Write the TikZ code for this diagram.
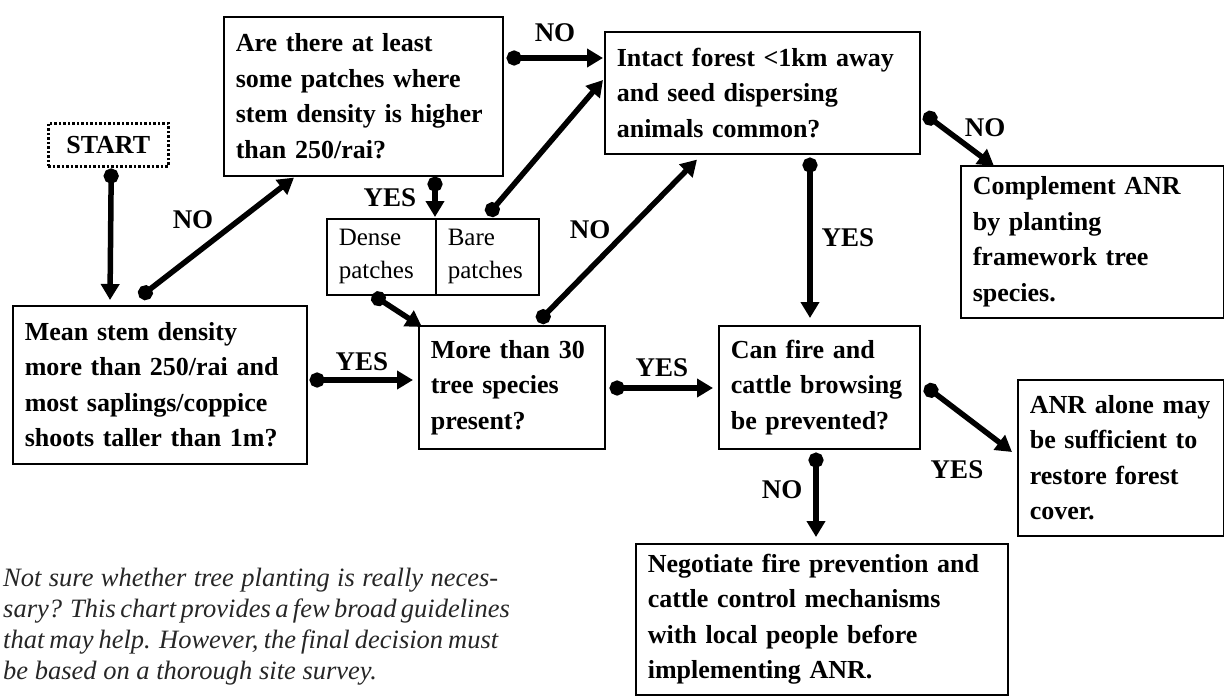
\documentclass[tikz,border=0pt]{standalone}
\usepackage{fontspec}
\setmainfont{Liberation Serif}
\usetikzlibrary{arrows.meta,calc}
\newcommand\oneln[1]{\mbox{#1}}
\begin{document}
\begin{tikzpicture}[x=1pt,y=-1pt,
  box/.style={draw, line width=1.6pt, anchor=north west, align=left,
    inner xsep=12pt, inner ysep=0pt,
    font=\fontsize{26}{35.5}\selectfont\bfseries},
  cell/.style={draw, line width=1.6pt, anchor=north west, align=left,
    inner xsep=12pt, inner ysep=0pt,
    font=\fontsize{25}{33}\selectfont},
  lbl/.style={font=\fontsize{27}{30}\selectfont\bfseries, inner sep=0pt},
  conn/.style={line width=5.5pt, {Circle[length=15pt]}-{Triangle[length=16pt,width=18pt]}},
]
\useasboundingbox (0,0) rectangle (1224,696);

% boxes
\node[draw, line width=2.5pt, dash pattern=on 2.5pt off 2pt, anchor=north west,
  minimum width=120pt, minimum height=43pt, inner sep=0pt,
  font=\fontsize{26}{30}\selectfont\bfseries] (start) at (47,122) {START};
\node[box, text width=255pt, minimum width=279pt, minimum height=159pt] (are) at (223,16)
  {\oneln{Are there at least}\\\oneln{some patches where}\\\oneln{stem density is higher}\\\oneln{than 250/rai?}};
\node[box, text width=291pt, minimum width=315pt, minimum height=122pt] (intact) at (604,31)
  {\oneln{Intact forest <1km away}\\\oneln{and seed dispersing}\\\oneln{animals common?}};
\node[box, text width=239pt, minimum width=263pt, minimum height=152pt] (comp) at (960,165)
  {\oneln{Complement ANR}\\\oneln{by planting}\\\oneln{framework tree}\\\oneln{species.}};
\node[box, text width=270pt, minimum width=294pt, minimum height=158pt] (mean) at (12,305)
  {\oneln{Mean stem density}\\\oneln{more than 250/rai and}\\\oneln{most saplings/coppice}\\\oneln{shoots taller than 1m?}};
\node[cell, text width=85pt, minimum width=109pt, minimum height=76pt] (dense) at (326,218)
  {Dense\\patches};
\node[cell, text width=79pt, minimum width=103pt, minimum height=76pt] (bare) at (435,218)
  {Bare\\patches};
\node[box, text width=162pt, minimum width=186pt, minimum height=123pt] (more) at (418,325)
  {\oneln{More than 30}\\\oneln{tree species}\\\oneln{present?}};
\node[box, text width=177pt, minimum width=201pt, minimum height=123pt] (can) at (718,325)
  {\oneln{Can fire and}\\\oneln{cattle browsing}\\\oneln{be prevented?}};
\node[box, text width=182pt, minimum width=206pt, minimum height=156pt] (anr) at (1017,379)
  {\oneln{ANR alone may}\\\oneln{be sufficient to}\\\oneln{restore forest}\\\oneln{cover.}};
\node[box, text width=348pt, minimum width=372pt, minimum height=151pt] (neg) at (635,543)
  {\oneln{Negotiate fire prevention and}\\\oneln{cattle control mechanisms}\\\oneln{with local people before}\\\oneln{implementing ANR.}};

% note
\node[anchor=north west, inner sep=0pt, align=left, text=black!85,
  font=\fontsize{26.5}{31}\selectfont\itshape] (note) at (3,568)
  {\makebox[495pt][s]{Not sure whether tree planting is really neces-}\\
   \makebox[495pt][s]{sary? This chart provides a few broad guidelines}\\
   \makebox[495pt][s]{that may help. However, the final decision must}\\
   be based on a thorough site survey.};

% connectors
\draw[conn] ($(start.south)+(3,1)$) -- ($(mean.north west)+(98,-5)$);
\draw[conn] ($(mean.north west)+(127.5,-7.7)$) -- ($(are.south west)+(71,1)$);
\draw[conn] ($(are.north east)+(3,42)$) -- ($(intact.north west)+(-1,27)$);
\draw[conn] ($(are.south west)+(212,0)$) -- ($(bare.north west)+(0,-1)$);
\draw[conn] ($(bare.north west)+(52.5,-2.7)$) -- ($(intact.north west)+(-1,49)$);
\draw[conn] ($(dense.south west)+(46.2,-1)$) -- ($(more.north west)+(4,2)$);
\draw[conn] ($(mean.north east)+(2,75)$) -- ($(more.north west)+(-5,55)$);
\draw[conn] ($(more.north west)+(120,-3)$) -- ($(intact.south west)+(93,5)$);
\draw[conn] ($(more.north east)+(4,63)$) -- ($(can.north west)+(-5,63)$);
\draw[conn] ($(intact.south west)+(206,3)$) -- ($(can.north west)+(92,-7)$);
\draw[conn] ($(intact.north east)+(3.5,82.7)$) -- ($(comp.north west)+(34,1)$);
\draw[conn] ($(can.north east)+(4.4,60.8)$) -- ($(anr.north west)+(-5,73)$);
\draw[conn] ($(can.south west)+(98,3)$) -- ($(neg.north west)+(181,-6)$);

% labels
\node[lbl] (l1) at (193,220) {NO};
\node[lbl] (l2) at (555,33) {NO};
\node[lbl] (l3) at (390,198) {YES};
\node[lbl] (l4) at (362,362) {YES};
\node[lbl] (l5) at (590,230) {NO};
\node[lbl] (l6) at (662,368) {YES};
\node[lbl] (l7) at (848,238) {YES};
\node[lbl] (l8) at (985,128) {NO};
\node[lbl] (l9) at (957,470) {YES};
\node[lbl] (l10) at (782,490) {NO};
\end{tikzpicture}
\end{document}
